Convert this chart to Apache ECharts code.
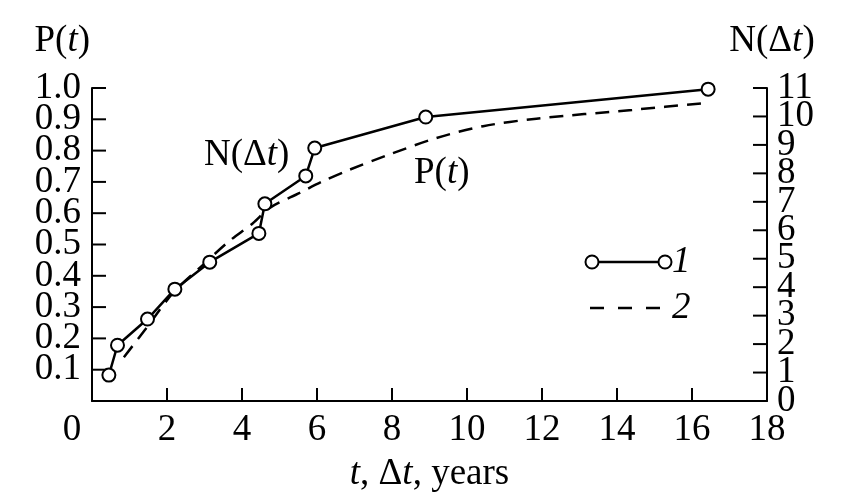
<!DOCTYPE html>
<html>
<head>
<meta charset="utf-8">
<script src="https://cdn.jsdelivr.net/npm/echarts@6/dist/echarts.min.js"></script>
<style>
html,body{margin:0;padding:0;background:#fff;}
#c{width:842px;height:492px;}
</style>
</head>
<body>
<div id="c"></div>
<script>
// Series 1: N(Δt) (right axis), circles, solid line
const nT = [0.45, 0.68, 1.48, 2.21, 3.14, 4.45, 4.61, 5.70, 5.94, 8.90, 16.43];
const nVal = [0.91, 1.96, 2.88, 3.93, 4.88, 5.89, 6.93, 7.91, 8.89, 9.98, 10.96];
// Series 2: P(t) (left axis), dashed line
const pT = [0.85, 1.43, 2.16, 2.96, 3.65, 4.29, 4.74, 5.54, 6.12, 6.87, 7.94, 9.18, 10.43, 11.85, 14.4, 16.43];
const pVal = [0.14, 0.23, 0.345, 0.435, 0.51, 0.568, 0.617, 0.665, 0.70, 0.739, 0.788, 0.84, 0.878, 0.902, 0.93, 0.953];
// Tick values / labels
const xTicks = [0, 2, 4, 6, 8, 10, 12, 14, 16, 18];
const leftTicks = [0.1, 0.2, 0.3, 0.4, 0.5, 0.6, 0.7, 0.8, 0.9, 1.0];
const rightTicks = [0, 1, 2, 3, 4, 5, 6, 7, 8, 9, 10, 11];

const FONT = '"Liberation Serif", "Times New Roman", serif';
const FS = 37;
const rich = {
  n: {fontFamily: FONT, fontSize: FS, color: '#000'},
  i: {fontFamily: FONT, fontSize: FS, fontStyle: 'italic', color: '#000'},
  z: {fontFamily: FONT, fontSize: FS, color: '#000', padding: [0, 40, 0, 0]}
};
function ls() { return {color: '#000', width: 2}; }
const X_MIN = xTicks[0], X_MAX = xTicks[xTicks.length - 1];

// Label formatters split by parity so neighbouring labels never collide
function leftFmt(parity) {
  return function (v) {
    const s = Number(v.toFixed(1));
    const k = leftTicks.indexOf(s);
    return (k >= 0 && k % 2 === parity) ? s.toFixed(1) : '';
  };
}
function rightFmt(parity) {
  return function (v) {
    const k = rightTicks.indexOf(v);
    return (k >= 0 && k % 2 === parity) ? String(v) : '';
  };
}
function yLabel(margin, fmt) {
  return {margin: margin, fontFamily: FONT, fontSize: FS, color: '#000',
    showMinLabel: true, showMaxLabel: true, hideOverlap: false, formatter: fmt};
}
function tickSeries(data, xi, yi, dx, dy) {
  return {
    type: 'custom', xAxisIndex: xi, yAxisIndex: yi, silent: true, clip: false, z: 1,
    data: data,
    renderItem: function (params, api) {
      const p = api.coord([api.value(0), api.value(1)]);
      return {type: 'line', shape: {x1: p[0], y1: p[1], x2: p[0] + dx, y2: p[1] + dy},
        style: {stroke: '#000', lineWidth: 2}};
    }
  };
}

const chart = echarts.init(document.getElementById('c'), null, {renderer: 'canvas'});
chart.setOption({
  backgroundColor: '#fff',
  animation: false,
  grid: {left: 92, right: 75, top: 88, bottom: 91, containLabel: false, outerBoundsMode: 'none'},
  xAxis: {
    type: 'value', min: X_MIN, max: X_MAX, interval: 2,
    axisLine: {show: true, onZero: false, lineStyle: ls()},
    axisTick: {show: false},
    splitLine: {show: false},
    axisLabel: {
      margin: 11, fontFamily: FONT, fontSize: FS, color: '#000', rich: rich,
      showMinLabel: true, showMaxLabel: true, hideOverlap: false,
      formatter: function (v) { return v === 0 ? '{z|0}' : String(v); }
    },
    name: '{i|t}{n|, Δ}{i|t}{n|, years}',
    nameLocation: 'middle', nameGap: 55,
    nameTextStyle: {rich: rich}
  },
  yAxis: [
    {
      type: 'value', min: 0, max: 1.0, interval: 0.1, position: 'left',
      axisLine: {show: true, onZero: false, lineStyle: ls()},
      axisTick: {show: false}, splitLine: {show: false},
      axisLabel: yLabel(11, leftFmt(1)),
      name: '{n|P(}{i|t}{n|)}', nameLocation: 'end', nameGap: 28,
      nameTextStyle: {rich: rich, align: 'right', padding: [0, 2, 0, 0]}
    },
    {
      type: 'value', min: 0, max: 11, interval: 1, position: 'right',
      axisLine: {show: true, onZero: false, lineStyle: ls()},
      axisTick: {show: false}, splitLine: {show: false},
      axisLabel: yLabel(10, rightFmt(0)),
      name: '{n|N(Δ}{i|t}{n|)}', nameLocation: 'end', nameGap: 28,
      nameTextStyle: {rich: rich, align: 'center', padding: [0, 0, 0, 10]}
    },
    {
      type: 'value', min: 0, max: 1.0, interval: 0.1, position: 'left',
      axisLine: {show: false}, axisTick: {show: false}, splitLine: {show: false},
      axisLabel: yLabel(11, leftFmt(0))
    },
    {
      type: 'value', min: 0, max: 11, interval: 1, position: 'right',
      axisLine: {show: false}, axisTick: {show: false}, splitLine: {show: false},
      axisLabel: yLabel(10, rightFmt(1))
    }
  ],
  series: [
    tickSeries(xTicks.map(t => [t, 0]), 0, 0, 0, -13),
    tickSeries(leftTicks.map(v => [X_MIN, v]), 0, 0, 14, 0),
    tickSeries(rightTicks.map(v => [X_MAX, v]), 0, 1, -14, 0),
    {
      name: '2', type: 'line', yAxisIndex: 0,
      data: pT.map((t, k) => [t, pVal[k]]),
      showSymbol: false, symbol: 'none', smooth: 0.3,
      lineStyle: {color: '#000', width: 2.5, type: [14, 9]},
      z: 2
    },
    {
      name: '1', type: 'line', yAxisIndex: 1,
      data: nT.map((t, k) => [t, nVal[k]]),
      symbol: 'circle', symbolSize: 13,
      itemStyle: {color: '#fff', borderColor: '#000', borderWidth: 2},
      lineStyle: {color: '#000', width: 2.5},
      z: 3
    }
  ],
  graphic: [
    {type: 'text', left: 204, top: 137, style: {rich: rich, text: '{n|N(Δ}{i|t}{n|)}'}},
    {type: 'text', left: 414, top: 155, style: {rich: rich, text: '{n|P(}{i|t}{n|)}'}},
    {type: 'line', shape: {x1: 592, y1: 262, x2: 665, y2: 262}, style: {stroke: '#000', lineWidth: 2.5}},
    {type: 'circle', shape: {cx: 592, cy: 262, r: 6.5}, style: {fill: '#fff', stroke: '#000', lineWidth: 2}},
    {type: 'circle', shape: {cx: 665, cy: 262, r: 6.5}, style: {fill: '#fff', stroke: '#000', lineWidth: 2}},
    {type: 'text', left: 672, top: 244, style: {text: '1', font: 'italic 37px ' + FONT, fill: '#000'}},
    {type: 'line', shape: {x1: 590, y1: 308, x2: 662, y2: 308}, style: {stroke: '#000', lineWidth: 2.5, lineDash: [14, 14]}},
    {type: 'text', left: 672, top: 290, style: {text: '2', font: 'italic 37px ' + FONT, fill: '#000'}}
  ]
});
</script>
</body>
</html>
